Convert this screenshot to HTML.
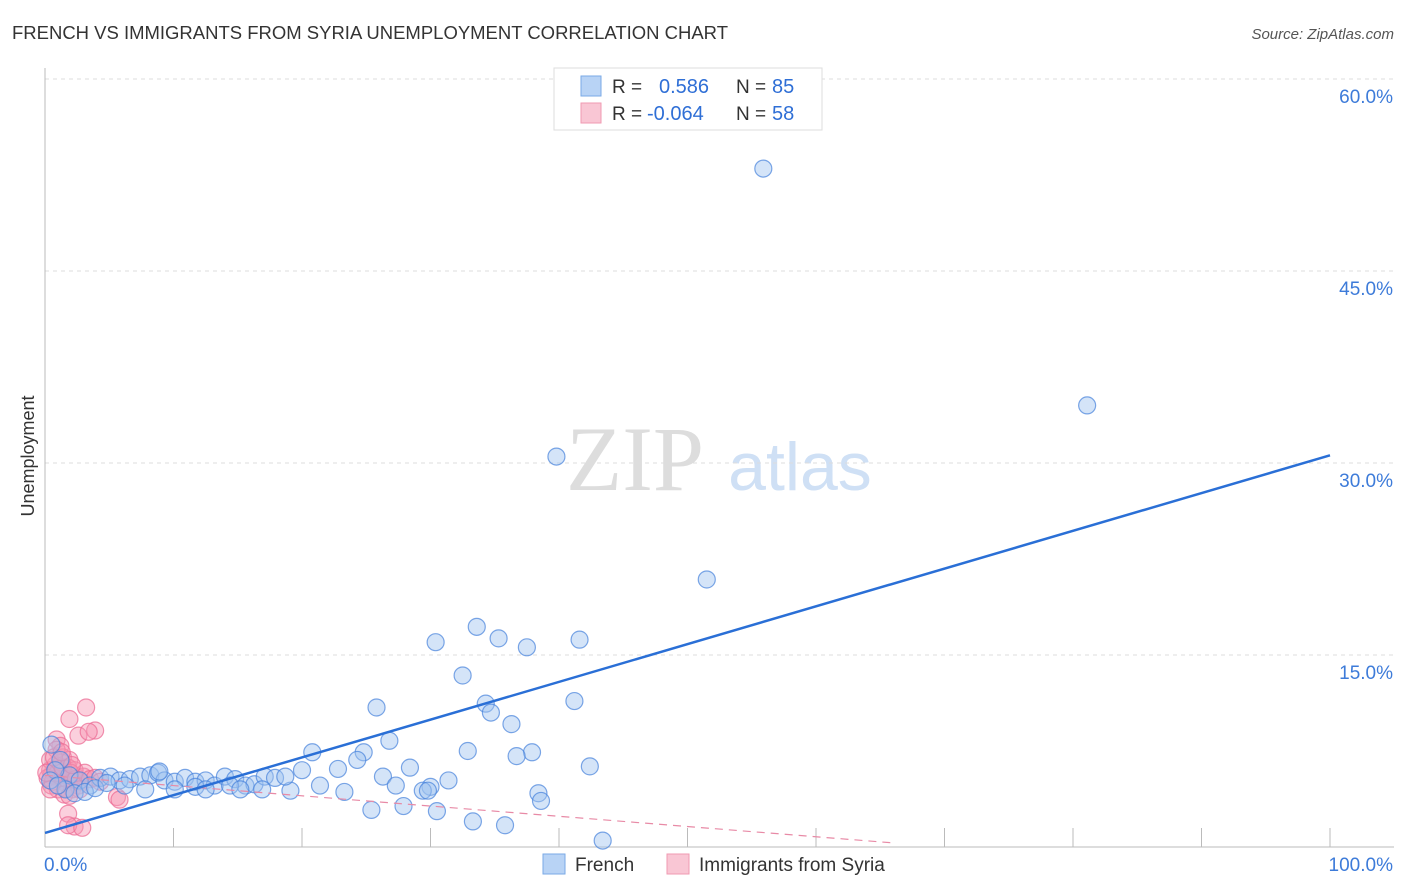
<!DOCTYPE html>
<html><head><meta charset="utf-8"><style>
body{margin:0;background:#fff;font-family:"Liberation Sans",sans-serif;}
#wrap{position:relative;width:1406px;height:892px;overflow:hidden;}
</style></head><body>
<div id="wrap">
<svg id="svg" width="1406" height="892" xmlns="http://www.w3.org/2000/svg">
<text x="12" y="39" font-size="18" fill="#333" textLength="716" lengthAdjust="spacingAndGlyphs">FRENCH VS IMMIGRANTS FROM SYRIA UNEMPLOYMENT CORRELATION CHART</text>
<text x="1394" y="39" font-size="15" fill="#555" font-style="italic" text-anchor="end">Source: ZipAtlas.com</text>
<text x="34" y="456" font-size="18" fill="#333" text-anchor="middle" transform="rotate(-90 34 456)">Unemployment</text>
<g>
<text x="635" y="490" font-size="92" fill="#ddd" text-anchor="middle" font-family="Liberation Serif,serif">ZIP</text>
<text x="800" y="490" font-size="68" fill="#cfe0f5" text-anchor="middle">atlas</text>
</g>
<g id="grid"></g><g id="marks"></g>
<g>
<rect x="554" y="68" width="268" height="62" fill="#fff" stroke="#ddd"/>
<rect x="581" y="76" width="20" height="20" fill="#b8d3f5" stroke="#7aa9e6"/>
<rect x="581" y="103" width="20" height="20" fill="#f9c6d4" stroke="#f09ab2"/>
<text x="612" y="93" font-size="19" fill="#333">R = </text><text x="659" y="93" font-size="20" fill="#2f6fd6">0.586</text>
<text x="736" y="93" font-size="19" fill="#333">N = </text><text x="772" y="93" font-size="20" fill="#2f6fd6">85</text>
<text x="612" y="120" font-size="19" fill="#333">R = </text><text x="647" y="120" font-size="20" fill="#2f6fd6">-0.064</text>
<text x="736" y="120" font-size="19" fill="#333">N = </text><text x="772" y="120" font-size="20" fill="#2f6fd6">58</text>
</g>
<g>
<rect x="543" y="854" width="22" height="20" fill="#b8d3f5" stroke="#7aa9e6"/>
<text x="575" y="871" font-size="19" fill="#333">French</text>
<rect x="667" y="854" width="22" height="20" fill="#f9c6d4" stroke="#f09ab2"/>
<text x="699" y="871" font-size="19" fill="#333">Immigrants from Syria</text>
</g>
</svg>
<script>
const yTicks=[15,30,45,60];
const yTickLabels=["15.0%","30.0%","45.0%","60.0%"];
const xTicks=[0,10,20,30,40,50,60,70,80,90,100];
const frenchX=[55.9,81.1,39.8,51.5,30.4,33.6,35.3,37.5,41.6,32.5,34.3,34.7,41.2,25.8,36.3,26.8,20.8,24.8,24.3,32.9,37.9,36.7,42.4,28.4,20.0,22.8,26.3,31.4,30.0,29.4,29.8,27.3,38.4,38.6,21.4,23.3,19.1,25.4,27.9,30.5,33.3,35.8,43.4,0.5,1.2,1.9,2.7,3.5,4.3,5.1,5.8,6.6,7.4,8.2,8.8,9.3,10.1,10.9,11.7,12.5,13.2,14.0,14.8,15.6,16.3,17.1,17.9,18.7,11.7,8.9,0.8,1.6,2.3,3.1,3.9,0.4,1.0,12.5,14.4,16.9,6.2,7.8,10.1,15.2,4.8];
const frenchY=[53.0,34.5,30.5,20.9,16.0,17.2,16.3,15.6,16.2,13.4,11.2,10.5,11.4,10.9,9.6,8.3,7.4,7.4,6.8,7.5,7.4,7.1,6.3,6.2,6.0,6.1,5.5,5.2,4.7,4.4,4.4,4.8,4.2,3.6,4.8,4.3,4.4,2.9,3.2,2.8,2.0,1.7,0.5,8.0,6.8,5.6,5.2,4.8,5.4,5.5,5.2,5.3,5.5,5.6,5.8,5.2,5.1,5.4,5.1,5.2,4.8,5.5,5.3,4.8,4.9,5.5,5.4,5.5,4.7,5.9,6.0,4.5,4.2,4.3,4.6,5.2,4.8,4.5,4.8,4.5,4.8,4.5,4.5,4.5,5.0];
const syriaX=[3.2,1.9,3.9,2.6,0.9,1.2,1.4,1.9,0.4,0.8,1.2,1.6,1.9,2.3,2.7,0.8,0.4,0.5,1.0,1.3,1.8,2.1,2.6,3.0,5.6,5.8,1.8,2.3,1.8,2.9,1.2,1.6,0.5,0.9,1.3,1.6,2.3,0.2,0.6,1.0,1.4,1.7,2.0,2.4,2.7,3.1,3.5,3.9,4.3,0.9,3.4,1.5,1.9,0.4,0.7,1.3,2.1,0.1];
const syriaY=[10.9,10.0,9.1,8.7,8.4,7.9,7.0,6.8,6.0,5.6,5.2,5.0,5.4,5.6,5.1,6.4,6.8,4.8,4.5,5.9,6.2,4.5,4.8,5.5,3.9,3.7,2.6,1.6,1.7,1.5,5.4,5.6,5.6,6.1,6.6,4.6,6.0,5.4,5.1,5.8,6.2,5.3,5.8,5.3,4.5,5.8,5.3,5.4,5.1,7.6,9.0,4.1,4.0,4.5,7.0,7.4,6.4,5.8];
const frenchTrend=[1.1,30.6];
const syriaTrend=[5.6,-0.08,66];
const X0=45,X1=1330,Y0=847,PPY=12.8;
const sx=v=>X0+(X1-X0)*v/100, sy=v=>Y0-v*PPY;
const NS="http://www.w3.org/2000/svg";
const grid=document.getElementById('grid'),marks=document.getElementById('marks');
function mk(tag,attrs,parent){const e=document.createElementNS(NS,tag);for(const k in attrs)e.setAttribute(k,attrs[k]);parent.appendChild(e);return e;}
yTicks.forEach((t,i)=>{
 const l=mk('line',{x1:X0,x2:1394,y1:sy(t),y2:sy(t),stroke:'#ddd','stroke-dasharray':'4,4'},grid);
 
 
 const tx=mk('text',{x:1393,y:sy(t)+24,'font-size':19,fill:'#3d7bd9','text-anchor':'end'},grid);
 tx.textContent=yTickLabels[i];
 
 
});
const ax=mk('line',{x1:X0,x2:X0,y1:68,y2:Y0,stroke:'#bbb'},grid);


const bx=mk('line',{x1:X0,x2:1394,y1:Y0,y2:Y0,stroke:'#bbb'},grid);


xTicks.forEach(t=>{if(t===0)return;
 const l=mk('line',{x1:sx(t),x2:sx(t),y1:828,y2:Y0,stroke:'#bbb'},grid);
 
 
});
const xl0=mk('text',{x:44,y:871,'font-size':19,fill:'#3d7bd9'},grid);xl0.textContent='0.0%';


const xl1=mk('text',{x:1393,y:871,'font-size':19,fill:'#3d7bd9','text-anchor':'end'},grid);xl1.textContent='100.0%';


syriaX.forEach((x,i)=>{
 const c=mk('circle',{cx:sx(x),cy:sy(syriaY[i]),r:8.5,fill:'rgba(246,150,180,0.45)',stroke:'rgba(236,110,150,0.75)','stroke-width':1.2},marks);
 
 
});
frenchX.forEach((x,i)=>{
 const c=mk('circle',{cx:sx(x),cy:sy(frenchY[i]),r:8.5,fill:'rgba(160,195,240,0.45)',stroke:'rgba(70,130,220,0.7)','stroke-width':1.2},marks);
 
 
});
const pl=mk('line',{x1:sx(0),y1:sy(syriaTrend[0]),x2:sx(syriaTrend[2]),y2:sy(syriaTrend[0]+syriaTrend[1]*syriaTrend[2]),stroke:'#e88aa6','stroke-width':1.2,'stroke-dasharray':'8,6'},marks);


const fl=mk('line',{x1:sx(0),y1:sy(frenchTrend[0]),x2:sx(100),y2:sy(frenchTrend[1]),stroke:'#2a6fd6','stroke-width':2.5},marks);


</script>
</div>
</body></html>
